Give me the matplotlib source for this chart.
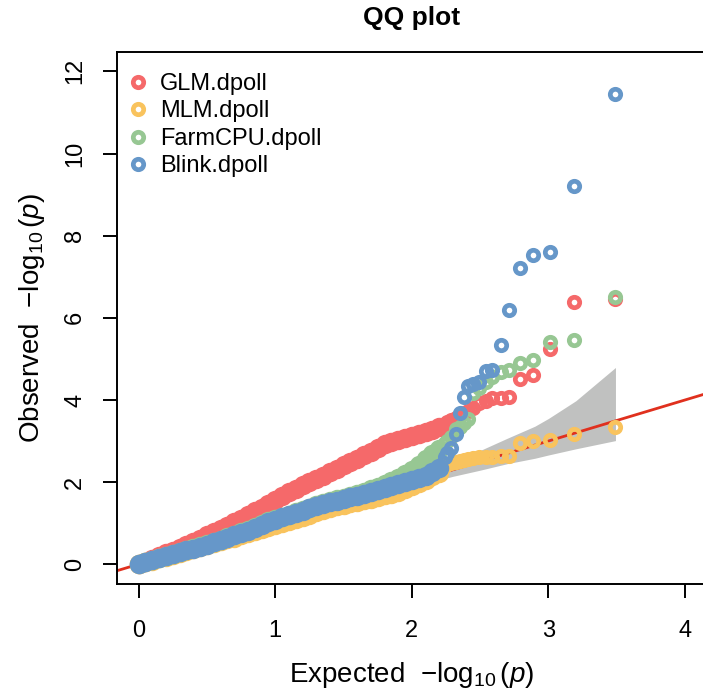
import matplotlib
matplotlib.use("Agg")
import matplotlib.pyplot as plt
from matplotlib.lines import Line2D

## labels / colours
series_names = ["GLM.dpoll", "MLM.dpoll", "FarmCPU.dpoll", "Blink.dpoll"]
series_colors = ["#F5696A", "#F9C35D", "#97C793", "#6697C9"]

## bulk of the points (expected -log10 p)
bulk_x = [0.00, 0.05, 0.10, 0.15, 0.20, 0.25, 0.30, 0.35, 0.40, 0.45,
          0.50, 0.55, 0.60, 0.65, 0.70, 0.75, 0.80, 0.85, 0.90, 0.95,
          1.00, 1.05, 1.10, 1.15, 1.20, 1.25, 1.30, 1.35, 1.40, 1.45,
          1.50, 1.55, 1.60, 1.65, 1.70, 1.75, 1.80, 1.85, 1.90, 1.95,
          2.00, 2.05, 2.10, 2.15, 2.20]

glm_bulk = [0.00, 0.06, 0.13, 0.20, 0.27, 0.33, 0.40, 0.47, 0.54, 0.62,
            0.70, 0.78, 0.86, 0.94, 1.03, 1.11, 1.20, 1.29, 1.38, 1.47,
            1.56, 1.66, 1.75, 1.84, 1.92, 2.00, 2.08, 2.16, 2.24, 2.33,
            2.41, 2.49, 2.57, 2.66, 2.74, 2.83, 2.92, 2.98, 3.03, 3.07,
            3.11, 3.16, 3.21, 3.27, 3.33]
mlm_bulk = [0.00, 0.05, 0.09, 0.14, 0.18, 0.23, 0.28, 0.32, 0.37, 0.42,
            0.46, 0.51, 0.56, 0.61, 0.65, 0.70, 0.75, 0.80, 0.85, 0.90,
            0.95, 1.00, 1.05, 1.10, 1.15, 1.21, 1.26, 1.31, 1.36, 1.41,
            1.45, 1.49, 1.52, 1.56, 1.60, 1.64, 1.68, 1.72, 1.77, 1.83,
            1.90, 1.98, 2.06, 2.14, 2.22]
farmcpu_bulk = [0.00, 0.05, 0.10, 0.15, 0.20, 0.25, 0.30, 0.35, 0.40, 0.45,
                0.50, 0.55, 0.60, 0.66, 0.72, 0.78, 0.84, 0.91, 0.98, 1.05,
                1.10, 1.16, 1.21, 1.27, 1.32, 1.38, 1.43, 1.48, 1.53, 1.58,
                1.62, 1.67, 1.72, 1.77, 1.82, 1.88, 1.95, 2.02, 2.10, 2.20,
                2.30, 2.42, 2.55, 2.68, 2.80]
blink_bulk = [0.00, 0.05, 0.10, 0.15, 0.20, 0.24, 0.29, 0.34, 0.38, 0.43,
              0.48, 0.53, 0.58, 0.64, 0.70, 0.76, 0.82, 0.89, 0.96, 1.03,
              1.08, 1.14, 1.19, 1.25, 1.30, 1.36, 1.41, 1.46, 1.51, 1.55,
              1.59, 1.63, 1.67, 1.71, 1.75, 1.80, 1.85, 1.91, 1.96, 2.00,
              2.05, 2.10, 2.16, 2.24, 2.35]

## top 18 points of each model, drawn as single rings
tail_x = [2.24, 2.26, 2.29, 2.32, 2.35, 2.38, 2.41, 2.45, 2.49, 2.54,
          2.59, 2.65, 2.71, 2.79, 2.89, 3.01, 3.19, 3.49]
glm_tail = [3.42, 3.46, 3.50, 3.55, 3.62, 3.68, 3.72, 3.80, 3.92, 3.98,
            4.04, 4.05, 4.06, 4.52, 4.60, 5.23, 6.39, 6.45]
mlm_tail = [2.40, 2.44, 2.47, 2.50, 2.52, 2.54, 2.56, 2.58, 2.60, 2.61,
            2.62, 2.63, 2.63, 2.94, 3.01, 3.02, 3.16, 3.35]
farmcpu_tail = [2.95, 3.00, 3.10, 3.30, 3.35, 3.45, 3.53, 4.18, 4.30, 4.43,
                4.55, 4.68, 4.74, 4.91, 4.97, 5.41, 5.47, 6.50]
blink_tail = [2.60, 2.70, 2.84, 3.16, 3.69, 4.06, 4.34, 4.38, 4.44, 4.70,
              4.74, 5.33, 6.18, 7.22, 7.54, 7.60, 9.22, 11.46]

## grey confidence band
ci_x = [0.0, 0.5, 1.0, 1.5, 2.0, 2.3, 2.5, 2.7, 2.9, 3.0, 3.2, 3.49]
ci_upper = [0.01, 0.56, 1.09, 1.58, 2.17, 2.50, 2.77, 3.07, 3.36, 3.55, 3.98, 4.79]
ci_lower = [0.00, 0.45, 0.92, 1.42, 1.88, 2.14, 2.29, 2.45, 2.58, 2.66, 2.81, 3.01]

bulks = [glm_bulk, mlm_bulk, farmcpu_bulk, blink_bulk]
tails = [glm_tail, mlm_tail, farmcpu_tail, blink_tail]

plt.rcParams["font.family"] = ["Liberation Sans", "DejaVu Sans"]
plt.rcParams["mathtext.fontset"] = "custom"
plt.rcParams["mathtext.rm"] = "Liberation Sans"
plt.rcParams["mathtext.it"] = "Liberation Sans:italic"

fig = plt.figure(figsize=(7.03, 6.96), dpi=100)
## right edge of the box sits just past the picture, like the original
ax = fig.add_axes([0.166, 0.161, 0.8397, 0.7648])

## confidence polygon
ax.fill_between(ci_x, ci_lower, ci_upper, color="#c0c1c0", lw=0, zorder=1)

## y = x line
ax.axline((0, 0), slope=1, color="#e0301e", lw=2, zorder=2)

for i in range(4):
    c = series_colors[i]
    ax.plot(bulk_x, bulks[i], "o", ms=11, mew=3, mfc=c, mec=c, zorder=3 + i)
    ax.plot(tail_x, tails[i], "o", ms=7.5, mew=3.4, mfc="none", mec=c, zorder=3 + i)

ax.set_xlim(-0.16, 4.16)
ax.set_ylim(-0.48, 12.48)
ax.set_xticks([0, 1, 2, 3, 4])
ax.set_yticks([0, 2, 4, 6, 8, 10, 12])
ax.spines["right"].set_visible(False)
for s in ["left", "top", "bottom"]:
    ax.spines[s].set_linewidth(1.4)
ax.tick_params(direction="out", length=10, width=1.4, labelsize=17, pad=12)
ax.tick_params(axis="x", pad=16)
for lab in ax.get_yticklabels():
    lab.set_rotation(90)
    lab.set_verticalalignment("center")

ax.set_xlabel(r"Expected  $-\log_{10}(\mathit{p})$", fontsize=20, labelpad=13)
ax.set_ylabel(r"Observed  $-\log_{10}(\mathit{p})$", fontsize=20, labelpad=12)
fig.text(0.586, 0.974, "QQ plot", fontsize=19, fontweight="bold", ha="center", va="center")

## legend
handles = [Line2D([], [], ls="none", marker="o", ms=7.5, mew=3.4, mfc="none", mec=c)
           for c in series_colors]
ax.legend(handles, series_names, loc="upper left", bbox_to_anchor=(0.016, 0.96),
          frameon=False, fontsize=17, handlelength=1.0, handletextpad=0.42,
          labelspacing=0.23, borderpad=0, borderaxespad=0)

fig.savefig("out.png", dpi=100)
